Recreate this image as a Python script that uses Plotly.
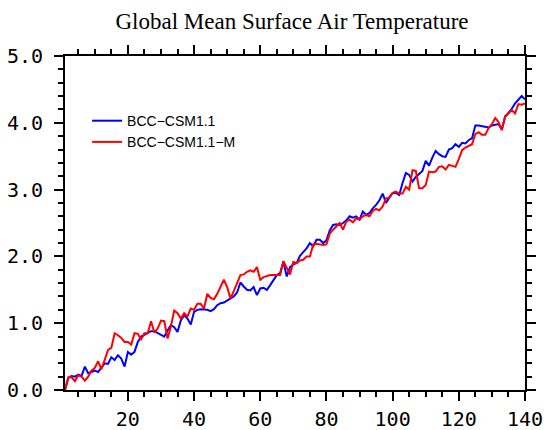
import plotly.graph_objects as go

years = list(range(1, 141))

bcc_csm11 = [
    0.00, 0.18, 0.21, 0.20, 0.23, 0.21, 0.35, 0.25, 0.27, 0.29,
    0.27, 0.33, 0.40, 0.39, 0.49, 0.45, 0.52, 0.47, 0.35, 0.57,
    0.53, 0.57, 0.72, 0.80, 0.83, 0.85, 0.88, 0.88, 0.85, 0.82,
    0.80, 0.89, 0.97, 0.94, 0.87, 1.04, 1.12, 1.07, 0.98, 1.17,
    1.20, 1.21, 1.21, 1.20, 1.18, 1.21, 1.27, 1.30, 1.31, 1.34,
    1.36, 1.40, 1.46, 1.61, 1.55, 1.50, 1.49, 1.54, 1.42, 1.52,
    1.53, 1.50, 1.57, 1.65, 1.72, 1.75, 1.92, 1.70, 1.84, 1.88,
    1.90, 2.01, 2.06, 2.12, 2.20, 2.15, 2.25, 2.25, 2.20, 2.24,
    2.39, 2.47, 2.48, 2.47, 2.50, 2.54, 2.60, 2.58, 2.60, 2.55,
    2.67, 2.62, 2.65, 2.72, 2.77, 2.84, 2.94, 2.80, 2.88, 2.95,
    2.95, 2.92, 3.10, 3.25, 3.22, 3.12, 3.19, 3.23, 3.28, 3.43,
    3.36, 3.48, 3.58, 3.53, 3.50, 3.49, 3.60, 3.62, 3.68, 3.64,
    3.70, 3.69, 3.74, 3.77, 3.96, 3.96, 3.95, 3.94, 3.93, 3.96,
    3.97, 3.98, 3.90, 4.09, 4.15, 4.21, 4.29, 4.34, 4.40, 4.35,
]

bcc_csm11_m = [
    0.00, 0.19, 0.19, 0.13, 0.22, 0.20, 0.14, 0.20, 0.29, 0.33,
    0.43, 0.31, 0.45, 0.60, 0.63, 0.85, 0.82, 0.78, 0.72, 0.72,
    0.68, 0.85, 0.84, 0.76, 0.85, 0.85, 1.03, 0.86, 0.92, 1.04,
    1.03, 0.77, 0.95, 1.19, 1.15, 1.07, 1.15, 1.10, 1.22, 1.20,
    1.29, 1.29, 1.22, 1.44, 1.38, 1.36, 1.44, 1.54, 1.65, 1.54,
    1.37, 1.48, 1.59, 1.72, 1.73, 1.77, 1.79, 1.77, 1.84, 1.65,
    1.69, 1.71, 1.72, 1.72, 1.72, 1.72, 1.93, 1.82, 1.73, 1.92,
    1.90, 1.94, 1.95, 2.00, 2.00, 2.18, 2.19, 2.18, 2.17, 2.18,
    2.34, 2.40, 2.45, 2.50, 2.40, 2.52, 2.55, 2.51, 2.57, 2.55,
    2.60, 2.62, 2.60, 2.68, 2.71, 2.69, 2.75, 2.87, 2.88, 2.95,
    2.97, 2.94, 2.94, 3.04, 3.00, 3.29, 3.28, 3.02, 3.02, 3.07,
    3.27, 3.26, 3.27, 3.34, 3.35, 3.30, 3.37, 3.36, 3.34, 3.46,
    3.59, 3.63, 3.65, 3.68, 3.83, 3.86, 3.82, 3.82, 3.92, 3.98,
    4.07, 4.01, 3.89, 4.10, 4.14, 4.19, 4.14, 4.28, 4.27, 4.29,
]

x_ticks = [20, 40, 60, 80, 100, 120, 140]
y_ticks = [0.0, 1.0, 2.0, 3.0, 4.0, 5.0]
y_tick_labels = ["0.0", "1.0", "2.0", "3.0", "4.0", "5.0"]

fig = go.Figure()
fig.add_trace(go.Scatter(x=years, y=bcc_csm11, mode="lines", name="BCC\u2212CSM1.1",
                         line=dict(color="#0000ff", width=2)))
fig.add_trace(go.Scatter(x=years, y=bcc_csm11_m, mode="lines", name="BCC\u2212CSM1.1\u2212M",
                         line=dict(color="#ff0000", width=2)))

axis_common = dict(
    showline=True, linecolor="black", linewidth=2, mirror="ticks",
    ticks="outside", ticklen=9, tickwidth=1.5, tickcolor="black",
    showgrid=False, zeroline=False, automargin=False,
    tickfont=dict(family="DejaVu Sans Mono", size=20, color="black"),
)

fig.update_layout(
    width=544, height=430,
    margin=dict(l=65, r=19, t=56, b=40, autoexpand=False),
    paper_bgcolor="white", plot_bgcolor="white",
    title=dict(text="Global Mean Surface Air Temperature",
               font=dict(family="Liberation Serif", size=23, color="black"),
               x=292 / 544, xanchor="center", y=1 - 21 / 430, yanchor="middle",
               automargin=False),
    xaxis=dict(range=[1, 140], tickvals=x_ticks, ticklabelstandoff=1,
               minor=dict(dtick=5, tick0=0, ticks="outside", ticklen=5, tickwidth=1.5, tickcolor="black"),
               **axis_common),
    yaxis=dict(range=[0, 5], tickvals=y_ticks, ticktext=y_tick_labels, ticklabelstandoff=7,
               minor=dict(dtick=0.2, tick0=0, ticks="outside", ticklen=5, tickwidth=1.5, tickcolor="black"),
               **axis_common),
    legend=dict(x=0.048, y=0.853, xanchor="left", yanchor="top",
                bgcolor="rgba(0,0,0,0)", borderwidth=0, tracegroupgap=0,
                font=dict(family="Liberation Sans", size=14, color="black")),
    showlegend=True,
)

fig.write_html("out.html", config={"displayModeBar": False},
               post_script="document.body.style.margin='0';document.body.style.padding='0';")
